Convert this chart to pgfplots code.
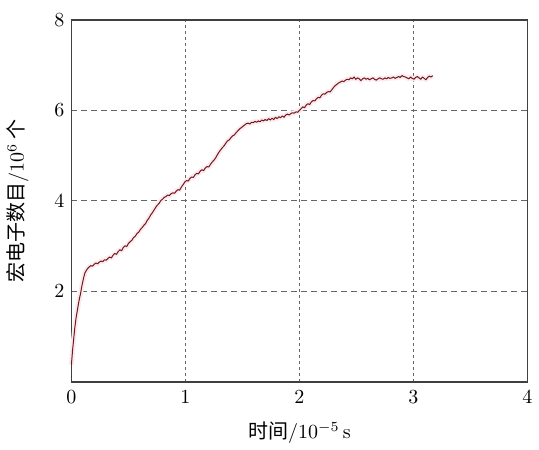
\documentclass[border=0pt]{standalone}
\usepackage{fontspec}
\usepackage{pgfplots}
\pgfplotsset{compat=1.18}
\usepackage{pgfplotstable}
\newfontfamily\cjk{Noto Sans CJK SC}
\definecolor{curve}{RGB}{118,20,30}
\definecolor{halo}{RGB}{249,236,238}

\pgfplotstableread{
t n
0.000 0.38
0.010 0.70
0.020 0.95
0.030 1.20
0.040 1.40
0.050 1.55
0.060 1.70
0.070 1.84
0.080 1.95
0.090 2.10
0.100 2.22
0.110 2.33
0.120 2.42
0.130 2.46
0.140 2.50
0.155 2.54
0.170 2.57
0.185 2.56
0.200 2.60
0.215 2.63
0.230 2.61
0.245 2.65
0.260 2.67
0.275 2.66
0.290 2.70
0.305 2.69
0.320 2.73
0.335 2.76
0.350 2.74
0.365 2.80
0.380 2.84
0.395 2.82
0.410 2.88
0.425 2.92
0.440 2.90
0.455 2.97
0.470 3.01
0.485 2.99
0.500 3.06
0.515 3.10
0.530 3.13
0.545 3.19
0.560 3.22
0.575 3.28
0.590 3.31
0.605 3.37
0.620 3.41
0.635 3.46
0.650 3.50
0.665 3.57
0.680 3.62
0.695 3.69
0.710 3.74
0.725 3.80
0.740 3.86
0.755 3.91
0.770 3.95
0.785 4.01
0.800 4.04
0.815 4.08
0.830 4.10
0.845 4.13
0.860 4.12
0.875 4.16
0.890 4.18
0.905 4.17
0.920 4.22
0.935 4.25
0.950 4.24
0.965 4.31
0.980 4.36
0.995 4.42
1.010 4.45
1.025 4.44
1.040 4.50
1.055 4.53
1.070 4.52
1.085 4.58
1.100 4.61
1.115 4.60
1.130 4.66
1.145 4.69
1.160 4.67
1.175 4.73
1.190 4.76
1.205 4.75
1.220 4.81
1.235 4.86
1.250 4.90
1.265 4.95
1.280 5.02
1.295 5.08
1.310 5.13
1.325 5.18
1.340 5.22
1.355 5.28
1.370 5.33
1.385 5.35
1.400 5.40
1.415 5.44
1.430 5.46
1.445 5.51
1.460 5.55
1.475 5.59
1.490 5.62
1.505 5.65
1.520 5.68
1.535 5.71
1.550 5.72
1.565 5.70
1.580 5.74
1.595 5.73
1.610 5.76
1.625 5.74
1.640 5.77
1.655 5.75
1.670 5.79
1.685 5.77
1.700 5.80
1.715 5.78
1.730 5.82
1.745 5.79
1.760 5.83
1.775 5.80
1.790 5.85
1.805 5.82
1.820 5.86
1.835 5.84
1.850 5.88
1.865 5.85
1.880 5.90
1.895 5.92
1.910 5.90
1.925 5.93
1.940 5.95
1.955 5.94
1.970 5.97
1.985 5.96
2.000 6.00
2.015 6.04
2.030 6.08
2.045 6.06
2.060 6.12
2.075 6.15
2.090 6.13
2.105 6.19
2.120 6.22
2.135 6.21
2.150 6.26
2.165 6.29
2.180 6.28
2.195 6.34
2.210 6.37
2.225 6.36
2.240 6.40
2.255 6.42
2.270 6.41
2.285 6.46
2.300 6.51
2.315 6.55
2.330 6.58
2.345 6.61
2.360 6.63
2.375 6.65
2.390 6.64
2.405 6.67
2.420 6.69
2.435 6.68
2.450 6.72
2.465 6.70
2.480 6.74
2.495 6.69
2.510 6.72
2.525 6.70
2.540 6.66
2.555 6.70
2.570 6.72
2.585 6.69
2.600 6.71
2.615 6.68
2.630 6.70
2.645 6.72
2.660 6.69
2.675 6.67
2.690 6.70
2.705 6.72
2.720 6.70
2.735 6.69
2.750 6.72
2.765 6.70
2.780 6.73
2.795 6.71
2.810 6.72
2.825 6.74
2.840 6.71
2.855 6.73
2.870 6.75
2.885 6.73
2.900 6.77
2.915 6.75
2.930 6.74
2.945 6.72
2.960 6.70
2.975 6.74
2.990 6.71
3.005 6.69
3.020 6.73
3.035 6.75
3.050 6.72
3.065 6.69
3.080 6.74
3.095 6.71
3.110 6.68
3.125 6.73
3.140 6.76
3.155 6.74
3.170 6.77
}\electrons

\begin{document}
\begin{tikzpicture}
\begin{axis}[
  scale only axis, width=228pt, height=181pt,
  xmin=0, xmax=4, ymin=0, ymax=8,
  xtick={0,1,2,3,4}, ytick={2,4,6,8},
  major tick length=0pt,
  axis line style={black!75, line width=0.7pt},
  grid=major,
  x grid style={black!60, dash pattern=on 1.5pt off 1.5pt, line width=0.5pt},
  y grid style={black!60, dash pattern=on 3pt off 2pt, line width=0.5pt},
  tick label style={font=\normalsize},
  xticklabel style={yshift=-1pt},
  xlabel={{\cjk 时间}/$10^{-5}$\,s},
  ylabel={{\cjk 宏电子数目}/$10^{6}$\,{\cjk 个}},
  ylabel shift=6pt,
  xlabel style={yshift=-2pt},
  clip=false,
]
\addplot[halo, line width=2.5pt, line join=round] table[x=t, y=n] {\electrons};
\addplot[curve, line width=0.5pt, line join=round] table[x=t, y=n] {\electrons};
\path (rel axis cs:0,1) ++(0,10pt);
\end{axis}
\end{tikzpicture}
\end{document}
